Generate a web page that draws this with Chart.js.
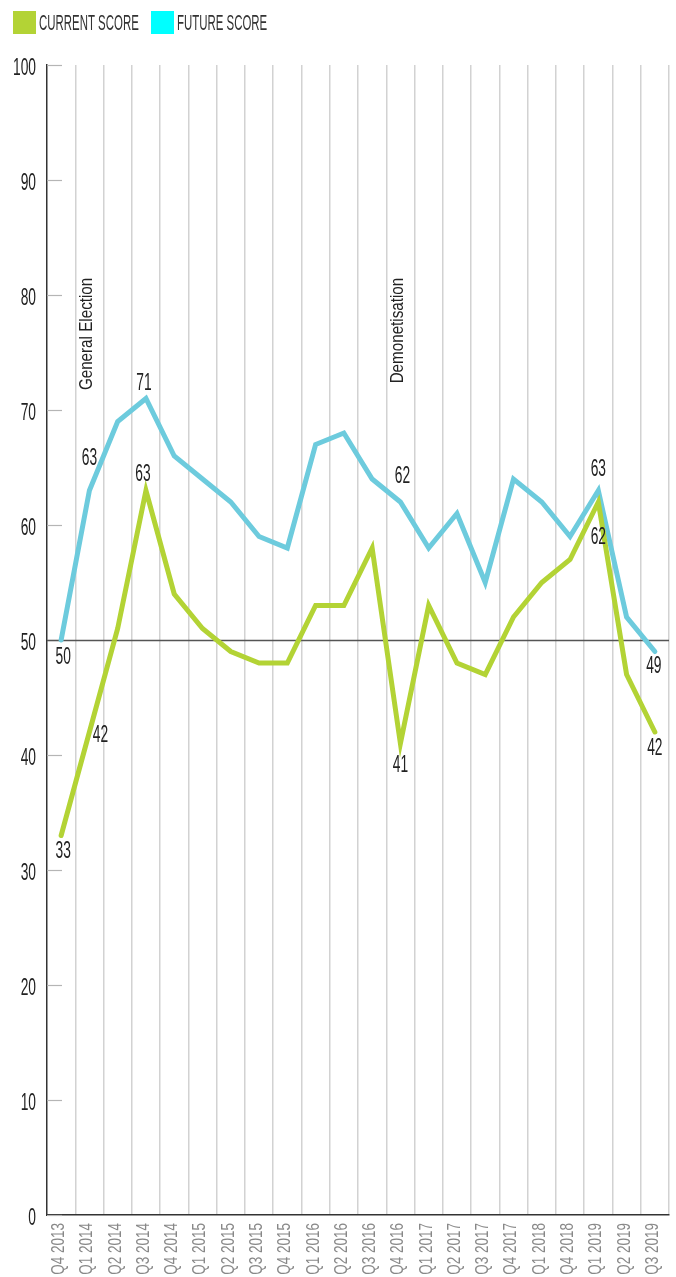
<!DOCTYPE html>
<html>
<head>
<meta charset="utf-8">
<script src="https://cdn.jsdelivr.net/npm/chart.js@4/dist/chart.umd.min.js"></script>
<style>
  html, body { margin: 0; padding: 0; background: #fff; }
  #wrap { width: 676px; height: 1277px; }
</style>
</head>
<body>
<div id="wrap"><canvas id="scoreChart" width="676" height="1277"></canvas></div>
<script>
const quarters = ['Q4 2013', 'Q1 2014', 'Q2 2014', 'Q3 2014', 'Q4 2014', 'Q1 2015', 'Q2 2015', 'Q3 2015', 'Q4 2015',
  'Q1 2016', 'Q2 2016', 'Q3 2016', 'Q4 2016', 'Q1 2017', 'Q2 2017', 'Q3 2017', 'Q4 2017', 'Q1 2018', 'Q4 2018',
  'Q1 2019', 'Q2 2019', 'Q3 2019'];
const currentScore = [33, 42, 51, 63, 54, 51, 49, 48, 48, 53, 53, 58, 41, 53, 48, 47, 52, 55, 57, 62, 47, 42];
const futureScore = [50, 63, 69, 71, 66, 64, 62, 59, 58, 67, 68, 64, 62, 58, 61, 55, 64, 62, 59, 63, 52, 49];
const seriesNames = ['CURRENT SCORE', 'FUTURE SCORE'];
const events = ['General Election', 'Demonetisation'];
const eventQuarters = ['Q1 2014', 'Q4 2016'];
const baseline = 50;

// which points get a value label, and where it sits relative to the point (px)
const pointLabels = [
  { ds: 1, i: 0, dx: 2, dy: 18 },
  { ds: 0, i: 0, dx: 2, dy: 16 },
  { ds: 0, i: 1, dx: 11, dy: 4 },
  { ds: 1, i: 1, dx: 0, dy: -32 },
  { ds: 1, i: 3, dx: -2, dy: -15 },
  { ds: 0, i: 3, dx: -3, dy: -16 },
  { ds: 1, i: 12, dx: 2, dy: -25 },
  { ds: 0, i: 12, dx: 0, dy: 22 },
  { ds: 1, i: 19, dx: 0, dy: -21 },
  { ds: 0, i: 19, dx: 0, dy: 36 },
  { ds: 1, i: 21, dx: -1, dy: 15 },
  { ds: 0, i: 21, dx: 0, dy: 17 }
];

const GREEN = '#b3d335';
const BLUE = '#6dcbdd';
const CYAN = '#00ffff';
const FONT = '"Liberation Sans", Arial, sans-serif';

// narrow text: the original uses a condensed face, so squeeze a regular one
function narrowText(ctx, text, x, y, o) {
  ctx.save();
  ctx.translate(x, y);
  if (o.rotate) ctx.rotate(o.rotate);
  ctx.scale(o.sx, 1);
  ctx.font = o.size + 'px ' + FONT;
  ctx.fillStyle = o.color;
  ctx.textAlign = o.align || 'center';
  ctx.textBaseline = 'middle';
  ctx.fillText(text, 0, 0);
  ctx.restore();
}

const decorPlugin = {
  id: 'decor',
  beforeDatasetsDraw(chart) {
    const { ctx, chartArea: a, scales: { y } } = chart;
    ctx.save();
    // short inner ticks on the y axis
    ctx.strokeStyle = '#b5b5b5';
    ctx.lineWidth = 1.2;
    y.ticks.forEach(t => {
      const py = Math.round(y.getPixelForValue(t.value)) + 0.5;
      ctx.beginPath();
      ctx.moveTo(a.left, py);
      ctx.lineTo(a.left + 15, py);
      ctx.stroke();
    });
    // 50 reference line
    const by = Math.round(y.getPixelForValue(baseline)) + 0.5;
    ctx.strokeStyle = '#555';
    ctx.lineWidth = 1.3;
    ctx.beginPath();
    ctx.moveTo(a.left, by);
    ctx.lineTo(a.right, by);
    ctx.stroke();
    ctx.restore();
  },
  afterDraw(chart) {
    const { ctx, chartArea: a, scales: { x, y } } = chart;

    y.ticks.forEach(t => {
      narrowText(ctx, String(t.value), 36, y.getPixelForValue(t.value) + 4,
        { size: 23, sx: 0.6, color: '#222', align: 'right' });
    });

    quarters.forEach((q, i) => {
      narrowText(ctx, q, x.getPixelForValue(i) - 2, a.bottom + 8,
        { size: 18, sx: 0.75, color: '#888', align: 'right', rotate: -Math.PI / 2 });
    });

    events.forEach((ev, k) => {
      const i = quarters.indexOf(eventQuarters[k]);
      narrowText(ctx, ev, x.getPixelForValue(i) - 3, y.getPixelForValue(81.5),
        { size: 19, sx: 0.8, color: '#222', align: 'right', rotate: -Math.PI / 2 });
    });

    pointLabels.forEach(p => {
      const pt = chart.getDatasetMeta(p.ds).data[p.i];
      const v = chart.data.datasets[p.ds].data[p.i];
      narrowText(ctx, String(v), pt.x + p.dx, pt.y + p.dy,
        { size: 23, sx: 0.6, color: '#222' });
    });

    // legend
    const boxes = [{ x: 13, color: GREEN }, { x: 151, color: CYAN }];
    boxes.forEach((b, k) => {
      ctx.fillStyle = b.color;
      ctx.fillRect(b.x, 11, 23, 23);
      narrowText(ctx, seriesNames[k], b.x + 26, 24,
        { size: 22, sx: 0.52, color: '#333', align: 'left' });
    });
  }
};

new Chart(document.getElementById('scoreChart'), {
  type: 'line',
  data: {
    labels: quarters,
    datasets: [
      { label: seriesNames[0], data: currentScore, borderColor: GREEN, backgroundColor: GREEN },
      { label: seriesNames[1], data: futureScore, borderColor: BLUE, backgroundColor: CYAN }
    ]
  },
  options: {
    responsive: false,
    animation: false,
    layout: { padding: { top: 65, right: 7, left: 0, bottom: 0 } },
    elements: {
      line: { borderWidth: 5, tension: 0, borderCapStyle: 'round', borderJoinStyle: 'miter', fill: false },
      point: { radius: 0, hoverRadius: 0 }
    },
    plugins: { legend: { display: false }, tooltip: { enabled: false } },
    scales: {
      x: {
        type: 'category',
        offset: true,
        grid: {
          offset: true,
          drawTicks: false,
          lineWidth: 1.5,
          color: c => (c.index === 0 || c.index === quarters.length) ? 'rgba(0,0,0,0)' : '#d2d2d2'
        },
        border: { color: '#333', width: 1.5 },
        ticks: { display: false },
        afterFit: s => { s.height = 62; }
      },
      y: {
        min: 0,
        max: 100,
        ticks: { display: false, stepSize: 10 },
        grid: { display: false },
        border: { color: '#333', width: 1.5 },
        afterFit: s => { s.width = 47; }
      }
    }
  },
  plugins: [decorPlugin]
});
</script>
</body>
</html>
